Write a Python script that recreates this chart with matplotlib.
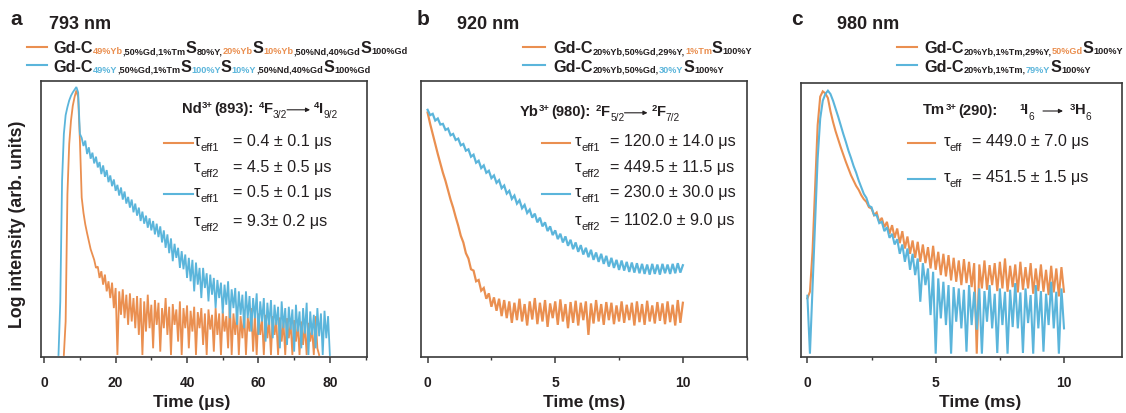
import matplotlib.pyplot as plt
import numpy as np
from matplotlib.lines import Line2D
from matplotlib.patches import FancyArrowPatch
from matplotlib.ticker import MultipleLocator

W, H = 1126, 413
ORANGE = "#EA8F50"
BLUE = "#5BB5DB"
INK = "#231F20"

# --- decay traces, log10 intensity (uniform time channels) ---
# panel a, 793 nm excitation, time in us
A_BLUE_SPAN = (4.0, 80.0)
A_BLUE = [
    0.00, 0.80, 2.60, 3.30, 3.58, 3.70, 3.80, 3.87, 3.92, 3.96,
    4.00, 3.92, 3.30, 3.24, 3.12, 3.20, 3.00, 3.10, 2.93, 3.02,
    2.86, 2.96, 2.80, 2.88, 2.70, 2.83, 2.66, 2.76, 2.58, 2.68,
    2.52, 2.62, 2.45, 2.54, 2.38, 2.50, 2.32, 2.44, 2.26, 2.36,
    2.20, 2.32, 2.13, 2.26, 2.08, 2.20, 2.00, 2.14, 1.96, 2.08,
    1.90, 2.04, 1.86, 2.00, 1.80, 1.96, 1.76, 1.92, 1.68, 1.86,
    1.60, 1.80, 1.52, 1.74, 1.40, 1.66, 1.45, 1.60, 1.30, 1.55,
    1.28, 1.50, 1.15, 1.45, 1.10, 1.42, 0.95, 1.38, 1.05, 1.30,
    0.85, 1.30, 1.00, 1.22, 0.80, 1.20, 0.90, 1.15, 0.70, 1.12,
    0.85, 1.08, 0.62, 1.05, 0.75, 1.10, 0.55, 0.98, 0.70, 1.00,
    0.45, 0.95, 0.60, 0.90, 0.40, 0.95, 0.55, 0.88, 0.35, 0.85,
    0.55, 0.92, 0.30, 0.80, 0.50, 0.85, 0.20, 0.78, 0.45, 0.82,
    0.25, 0.75, 0.45, 0.72, 0.10, 0.80, 0.40, 0.70, 0.15, 0.72,
    0.38, 0.68, 0.05, 0.75, 0.35, 0.65, 0.10, 0.70, 0.32, 0.78,
    0.00, 0.65, 0.30, 0.60, 0.10, 0.70, 0.28, 0.62, 0.00, 0.66,
    0.25, 0.58, 0.00,
]
A_ORANGE_SPAN = (5.5, 77.0)
A_ORANGE = [
    0.00, 0.50, 2.40, 3.15, 3.50, 3.72, 3.85, 3.95, 3.85, 3.20,
    2.35, 2.12, 1.95, 1.82, 1.70, 1.58, 1.50, 1.42, 1.30, 1.32,
    1.15, 1.25, 1.05, 1.20, 0.95, 1.10, 0.85, 1.08, 0.70, 1.00,
    0.00, 0.95, 0.60, 0.98, 0.55, 0.90, 0.45, 0.92, 0.50, 0.85,
    0.40, 0.88, 0.30, 0.85, 0.00, 0.80, 0.35, 0.90, 0.40, 0.75,
    0.10, 0.82, 0.45, 0.78, 0.05, 0.70, 0.40, 0.85, 0.30, 0.72,
    0.00, 0.76, 0.45, 0.68, 0.20, 0.80, 0.00, 0.70, 0.40, 0.74,
    0.10, 0.66, 0.35, 0.72, 0.00, 0.64, 0.40, 0.70, 0.15, 0.62,
    0.00, 0.68, 0.38, 0.60, 0.05, 0.70, 0.30, 0.62, 0.00, 0.65,
    0.35, 0.58, 0.10, 0.80, 0.00, 0.62, 0.30, 0.66, 0.00, 0.58,
    0.25, 0.64, 0.00, 0.56, 0.35, 0.70, 0.05, 0.60, 0.00, 0.62,
    0.30, 0.55, 0.00, 0.60, 0.25, 0.52, 0.00, 0.58, 0.30, 0.50,
    0.00, 0.56, 0.20, 0.50, 0.00, 0.55, 0.25, 0.48, 0.00, 0.52,
    0.20, 0.45, 0.00, 0.50, 0.15, 0.45, 0.00, 0.48, 0.20, 0.40,
    0.00, 0.58, 0.10, 0.00,
]

# panel b, 920 nm excitation, time in ms
B_SPAN = (0.0, 10.0)
B_BLUE = [
    3.66, 3.58, 3.60, 3.50, 3.53, 3.44, 3.45, 3.36, 3.38, 3.28,
    3.30, 3.21, 3.23, 3.13, 3.15, 3.05, 3.07, 2.96, 2.99, 2.87,
    2.90, 2.79, 2.83, 2.72, 2.75, 2.64, 2.68, 2.57, 2.61, 2.49,
    2.53, 2.41, 2.45, 2.33, 2.38, 2.26, 2.31, 2.19, 2.24, 2.12,
    2.17, 2.05, 2.11, 1.98, 2.05, 1.92, 1.98, 1.85, 1.92, 1.79,
    1.86, 1.73, 1.81, 1.68, 1.77, 1.63, 1.72, 1.58, 1.68, 1.54,
    1.64, 1.50, 1.60, 1.46, 1.57, 1.42, 1.53, 1.39, 1.51, 1.36,
    1.48, 1.32, 1.45, 1.30, 1.42, 1.27, 1.41, 1.26, 1.39, 1.24,
    1.38, 1.23, 1.37, 1.22, 1.36, 1.21, 1.35, 1.20, 1.36, 1.21,
    1.35, 1.20, 1.36, 1.22, 1.35, 1.21, 1.36, 1.22, 1.37, 1.23,
    1.34,
]
B_ORANGE = [
    3.62, 3.45, 3.30, 3.15, 3.00, 2.86, 2.72, 2.60, 2.46, 2.32,
    2.20, 2.06, 1.93, 1.78, 1.68, 1.52, 1.44, 1.28, 1.26, 1.10,
    1.12, 0.96, 1.00, 0.84, 0.92, 0.72, 0.86, 0.66, 0.84, 0.58,
    0.82, 0.55, 0.80, 0.48, 0.78, 0.52, 0.84, 0.50, 0.76, 0.44,
    0.80, 0.53, 0.85, 0.46, 0.78, 0.50, 0.82, 0.42, 0.77, 0.55,
    0.80, 0.45, 0.83, 0.50, 0.76, 0.40, 0.79, 0.48, 0.81, 0.44,
    0.78, 0.52, 0.80, 0.30, 0.77, 0.47, 0.82, 0.50, 0.76, 0.45,
    0.79, 0.52, 0.78, 0.46, 0.74, 0.50, 0.80, 0.48, 0.75, 0.52,
    0.78, 0.44, 0.80, 0.49, 0.76, 0.45, 0.81, 0.50, 0.74, 0.47,
    0.79, 0.51, 0.77, 0.46, 0.80, 0.49, 0.75, 0.44, 0.82, 0.48,
    0.78,
]

# panel c, 980 nm excitation, time in ms
C_SPAN = (0.0, 10.0)
C_ORANGE = [
    0.85, 0.95, 1.55, 2.50, 3.45, 3.88, 3.96, 3.93, 3.86, 3.66,
    3.50, 3.36, 3.24, 3.12, 3.01, 2.90, 2.80, 2.70, 2.62, 2.54,
    2.48, 2.40, 2.34, 2.30, 2.22, 2.20, 2.10, 2.14, 2.00, 2.06,
    1.92, 2.00, 1.82, 1.95, 1.76, 1.90, 1.68, 1.86, 1.60, 1.78,
    1.52, 1.72, 1.46, 1.70, 1.40, 1.66, 1.38, 1.62, 1.30, 1.64,
    1.28, 1.55, 1.20, 1.52, 1.18, 1.50, 1.12, 1.46, 1.10, 1.42,
    1.05, 1.44, 1.08, 1.40, 1.02, 1.38, 0.02, 1.36, 1.00, 1.42,
    0.98, 1.35, 1.05, 1.38, 0.96, 1.40, 1.00, 1.45, 0.95, 1.34,
    1.02, 1.36, 0.94, 1.40, 0.98, 1.32, 1.00, 1.38, 0.92, 1.30,
    0.96, 1.36, 0.95, 1.28, 0.90, 1.34, 0.94, 1.30, 0.88, 1.32,
    0.95,
]
C_BLUE = [
    0.89, 0.02, 1.00, 1.98, 2.95, 3.55, 3.82, 3.92, 3.97, 3.92,
    3.82, 3.70, 3.58, 3.45, 3.32, 3.20, 3.07, 2.96, 2.84, 2.74,
    2.62, 2.52, 2.42, 2.36, 2.24, 2.22, 2.10, 2.10, 1.98, 2.00,
    1.86, 1.92, 1.76, 1.82, 1.66, 1.74, 1.52, 1.66, 1.40, 1.60,
    1.28, 1.52, 1.20, 1.45, 0.80, 1.38, 1.05, 1.30, 0.60, 1.25,
    0.02, 1.15, 0.55, 1.10, 0.45, 1.05, 0.02, 1.02, 0.50, 1.00,
    0.40, 0.98, 0.05, 1.05, 0.45, 0.95, 0.38, 1.00, 0.02, 0.96,
    0.50, 1.05, 0.40, 0.92, 0.03, 1.00, 0.45, 0.95, 0.02, 0.98,
    0.42, 1.08, 0.40, 0.94, 0.03, 1.00, 0.48, 0.90, 0.02, 1.05,
    0.40, 0.96, 0.05, 0.92, 0.45, 1.10, 0.40, 0.95, 0.02, 1.00,
    0.40,
]

A_TAUS = [("eff1", "= 0.4 ± 0.1 μs"), ("eff2", "= 4.5 ± 0.5 μs"),
          ("eff1", "= 0.5 ± 0.1 μs"), ("eff2", "= 9.3± 0.2 μs")]
B_TAUS = [("eff1", "= 120.0 ± 14.0 μs"), ("eff2", "= 449.5 ± 11.5 μs"),
          ("eff1", "= 230.0 ± 30.0 μs"), ("eff2", "= 1102.0 ± 9.0 μs")]
C_TAUS = [("eff", "= 449.0 ± 7.0 μs"), ("eff", "= 451.5 ± 1.5 μs")]

plt.rcParams["font.family"] = ["Liberation Sans", "DejaVu Sans"]
fig = plt.figure(figsize=(W / 100, H / 100), dpi=100)
renderer = fig.canvas.get_renderer()


def fx(x):
    return x / W


def fy(y):
    return 1 - y / H


def write(x, y, pieces):
    """Lay text pieces side by side; y is the baseline in pixels from the top."""
    for piece in pieces:
        if piece[0] == "gap":
            x += piece[1]
            continue
        if piece[0] == "at":
            x = piece[1]
            continue
        if piece[0] == "arrow":
            length, rise = piece[1], piece[2]
            fig.add_artist(FancyArrowPatch(
                (fx(x), fy(y - rise)), (fx(x + length), fy(y - rise)),
                transform=fig.transFigure, arrowstyle="-|>", mutation_scale=6,
                lw=0.8, color=INK, shrinkA=0, shrinkB=0))
            x += length
            continue
        text, size, color, weight, dy = piece
        t = fig.text(fx(x), fy(y + dy), text, fontsize=size, color=color,
                     fontweight=weight, va="baseline", ha="left")
        x += t.get_window_extent(renderer).width
    return x


def sample_line(x0, x1, y, color):
    fig.add_artist(Line2D([fx(x0), fx(x1)], [fy(y), fy(y)], color=color, lw=1.5,
                          transform=fig.transFigure))


def gd_label(x, y, parts, big=11.7, small=6.6):
    pieces = []
    for text, color in parts:
        if text in ("Gd-C", "S"):
            pieces.append((text, big, INK, "bold", 0))
        else:
            pieces.append((text, small, color, "bold", 1))
    write(x, y, pieces)


def header(x, y, pieces):
    out = []
    for p in pieces:
        if p[0] in ("gap", "arrow", "at"):
            out.append(p)
        elif p[1] == "sup":
            out.append((p[0], 6.8, INK, "bold", -5))
        elif p[1] == "sub":
            out.append((p[0], 7.3, INK, "normal", 5))
        else:
            out.append((p[0], 10.6, INK, "bold", 0))
    write(x, y, out)


def tau_rows(x_tau, x_eq, rows, baselines):
    for (sub, text), base in zip(rows, baselines):
        write(x_tau, base, [("τ", 12, INK, "normal", 0), (sub, 8, INK, "normal", 5)])
        fig.text(fx(x_eq), fy(base), text, fontsize=11.6, color=INK, va="baseline")


def make_axes(left, top, right, bottom, xlim, major, minor, labels):
    ax = fig.add_axes([fx(left), fy(bottom), (right - left) / W, (bottom - top) / H])
    ax.set_xlim(*xlim)
    ax.set_ylim(-0.03, 4.09)
    ax.set_yticks([])
    ax.set_xticks(major, labels=labels, fontweight="bold", fontsize=10)
    ax.xaxis.set_minor_locator(MultipleLocator(minor))
    ax.tick_params(axis="x", which="major", direction="out", length=4, width=1.1,
                   pad=10, colors="#3A3A3A", labelcolor=INK)
    ax.tick_params(axis="x", which="minor", direction="out", length=2.5, width=1.0,
                   colors="#3A3A3A")
    for s in ax.spines.values():
        s.set_linewidth(1.2)
        s.set_color("#3A3A3A")
    return ax


def trace(ax, span, values, color, lw=1.3):
    t = np.linspace(span[0], span[1], len(values))
    ax.plot(t, values, color=color, lw=lw, solid_joinstyle="miter")


# ---------------- panel a ----------------
ax_a = make_axes(41, 81, 367, 357, (-0.9, 90.4), [0, 20, 40, 60, 80], 10,
                 ["0", "20", "40", "60", "80"])
trace(ax_a, A_ORANGE_SPAN, A_ORANGE, ORANGE)
trace(ax_a, A_BLUE_SPAN, A_BLUE, BLUE)

# ---------------- panel b ----------------
ax_b = make_axes(420.7, 81, 746.7, 357, (-0.27, 12.5), [0, 5, 10], 2.5, ["0", "5", "10"])
trace(ax_b, B_SPAN, B_ORANGE, ORANGE, lw=1.6)
trace(ax_b, B_SPAN, B_BLUE, BLUE, lw=1.6)

# ---------------- panel c ----------------
ax_c = make_axes(800.7, 82.7, 1122, 357, (-0.26, 12.26), [0, 5, 10], 2.5, ["0", "5", "10"])
trace(ax_c, C_SPAN, C_ORANGE, ORANGE, lw=1.5)
trace(ax_c, C_SPAN, C_BLUE, BLUE, lw=1.5)

# axis titles
for xc, text in [(192, "Time (μs)"), (584, "Time (ms)"), (980, "Time (ms)")]:
    fig.text(fx(xc), fy(407), text, fontsize=12.5, fontweight="bold", color=INK,
             ha="center", va="baseline")
fig.text(fx(18), fy(224), "Log intensity (arb. units)", fontsize=12.8, fontweight="bold",
         color=INK, rotation=90, ha="center", va="center")

# panel letters and excitation wavelengths
for x_l, x_nm, letter, nm in [(10, 49.3, "a", "793 nm"), (416.7, 457.3, "b", "920 nm"),
                              (790.7, 837.3, "c", "980 nm")]:
    fig.text(fx(x_l), fy(25), letter, fontsize=15, fontweight="bold", color=INK, va="baseline")
    fig.text(fx(x_nm), fy(29.3), nm, fontsize=13, fontweight="bold", color=INK, va="baseline")

# sample legends at the top
sample_line(27, 47, 46.7, ORANGE)
gd_label(53.3, 53.3, [("Gd-C", INK), ("49%Yb", ORANGE), (",50%Gd,1%Tm", INK), ("S", INK),
                      ("80%Y,", INK), ("20%Yb", ORANGE), ("S", INK), ("10%Yb", ORANGE),
                      (",50%Nd,40%Gd", INK), ("S", INK), ("100%Gd", INK)])
sample_line(27, 47, 65, BLUE)
gd_label(53.3, 71.7, [("Gd-C", INK), ("49%Y", BLUE), (",50%Gd,1%Tm", INK), ("S", INK),
                      ("100%Y", BLUE), ("S", INK), ("10%Y", BLUE),
                      (",50%Nd,40%Gd", INK), ("S", INK), ("100%Gd", INK)])

sample_line(523, 545, 46.7, ORANGE)
gd_label(553.3, 53.3, [("Gd-C", INK), ("20%Yb,50%Gd,29%Y,", INK), ("1%Tm", ORANGE),
                       ("S", INK), ("100%Y", INK)])
sample_line(523, 545, 65, BLUE)
gd_label(553.3, 71.7, [("Gd-C", INK), ("20%Yb,50%Gd,", INK), ("30%Y", BLUE),
                       ("S", INK), ("100%Y", INK)])

sample_line(896.7, 916.7, 46.7, ORANGE)
gd_label(924.3, 53.3, [("Gd-C", INK), ("20%Yb,1%Tm,29%Y,", INK), ("50%Gd", ORANGE),
                       ("S", INK), ("100%Y", INK)])
sample_line(896.7, 916.7, 65, BLUE)
gd_label(924.3, 71.7, [("Gd-C", INK), ("20%Yb,1%Tm,", INK), ("79%Y", BLUE),
                       ("S", INK), ("100%Y", INK)])

# transition headers
header(181.7, 113.3, [("Nd", ""), ("3+", "sup"), ("gap", 2), ("(893):", ""), ("gap", 5),
                      ("4", "sup"), ("F", ""), ("3/2", "sub"), ("arrow", 23, 3.5), ("gap", 4),
                      ("4", "sup"), ("I", ""), ("9/2", "sub")])
header(520, 116.3, [("Yb", ""), ("3+", "sup"), ("gap", 2), ("(980):", ""), ("gap", 5),
                    ("2", "sup"), ("F", ""), ("5/2", "sub"), ("arrow", 23, 3.5), ("gap", 4),
                    ("2", "sup"), ("F", ""), ("7/2", "sub")])
header(923.3, 114.5, [("Tm", ""), ("3+", "sup"), ("gap", 2), ("(290):", ""), ("at", 1019),
                      ("1", "sup"), ("I", ""), ("6", "sub"), ("at", 1043), ("arrow", 20, 3.5),
                      ("at", 1070), ("3", "sup"), ("H", ""), ("6", "sub")])

# lifetimes
sample_line(164, 193, 142.7, ORANGE)
sample_line(164, 193, 194.3, BLUE)
tau_rows(194, 233, A_TAUS, [145.7, 172.3, 197.3, 225.7])
sample_line(542.3, 570, 142.7, ORANGE)
sample_line(542.3, 570, 194.3, BLUE)
tau_rows(575, 610, B_TAUS, [145.7, 172.3, 197.3, 224.7])
sample_line(908, 935, 142.7, ORANGE)
sample_line(908, 935, 178.7, BLUE)
tau_rows(943.3, 971.7, C_TAUS, [145.7, 181.7])

fig.savefig("out.png", dpi=100)
